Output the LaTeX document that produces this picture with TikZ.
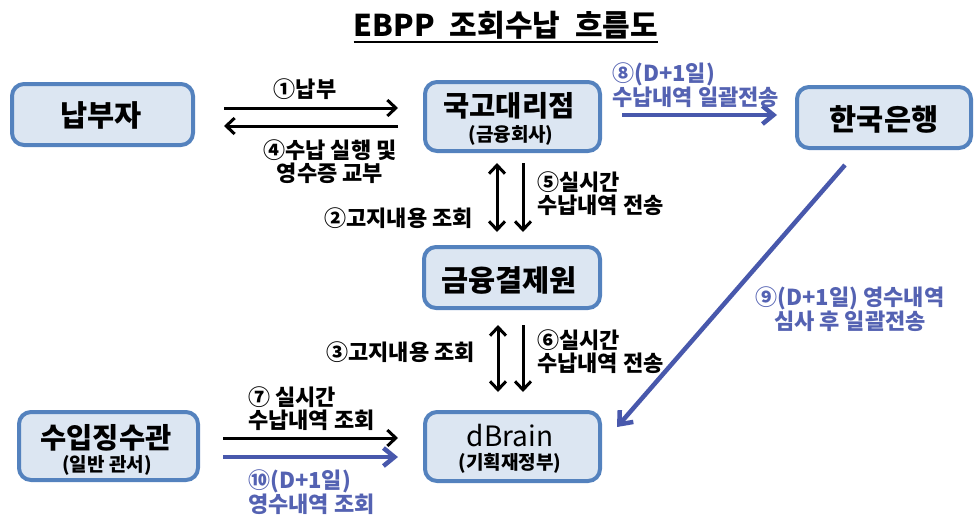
\documentclass[tikz,border=0pt]{standalone}
\usepackage{fontspec}
\setmainfont{Noto Sans CJK KR}
\usetikzlibrary{arrows.meta}
\definecolor{boxfill}{RGB}{220,230,242}
\definecolor{boxline}{RGB}{84,130,190}
\definecolor{flowblue}{RGB}{72,88,172}
\definecolor{txtblue}{RGB}{84,98,178}
\begin{document}
\begin{tikzpicture}[x=1pt,y=-1pt,
  ent/.style={draw=boxline, fill=boxfill, line width=4pt, rounded corners=12pt, inner sep=0pt},
  bigtxt/.style={inner sep=0pt, font=\fontsize{29.5}{31}\selectfont\bfseries},
  subtxt/.style={inner sep=0pt, font=\fontsize{19}{21}\selectfont\bfseries},
  lab/.style={inner sep=0pt, font=\fontsize{22}{23}\selectfont\bfseries},
  blab/.style={lab, text=txtblue},
  blk/.style={line width=3pt, -{Straight Barb[length=8.5pt,width=16pt,line width=3pt]}},
  dbl/.style={line width=3pt, {Straight Barb[length=8.5pt,width=16pt,line width=3pt]}-{Straight Barb[length=8.5pt,width=16pt,line width=3pt]}},
  blu/.style={line width=4.5pt, draw=flowblue, -{Straight Barb[length=11pt,width=18pt,line width=4.5pt]}}
]
\useasboundingbox (0,0) rectangle (975,515);

% title
\node[inner sep=0pt, font=\fontsize{30}{32}\selectfont\bfseries] (title) at (506,25) {EBPP\hspace{0.5em}조회수납\hspace{0.5em}흐름도};
\draw[line width=2pt] ([yshift=-3pt]title.south west) -- ([yshift=-3pt]title.south east);

% boxes
\node[ent, minimum width=181pt, minimum height=61pt] (napbu) at (102.5,114.5) {};
\node[ent, minimum width=175pt, minimum height=69pt] (kuk) at (512.5,116.5) {};
\node[ent, minimum width=176pt, minimum height=61pt] (geum) at (512,277.5) {};
\node[ent, minimum width=175pt, minimum height=69pt] (dbrain) at (512.5,446.5) {};
\node[ent, minimum width=174pt, minimum height=61pt] (hanguk) at (884,117.5) {};
\node[ent, minimum width=179pt, minimum height=68pt] (suip) at (108.5,446) {};

% box texts
\node[bigtxt] (napbuT) at (101,115) {납부자};
\node[bigtxt, font=\fontsize{28.5}{30}\selectfont\bfseries] (kukT) at (509,106) {국고대리점};
\node[subtxt] (kukS) at (511,135) {(금융회사)};
\node[bigtxt] (geumT) at (509,280) {금융결제원};
\node[inner sep=0pt, font=\fontsize{28}{30}\selectfont] (dbrainT) at (510,436) {dBrain};
\node[subtxt] (dbrainS) at (510,463) {(기획재정부)};
\node[bigtxt] (hangukT) at (884,119) {한국은행};
\node[bigtxt, font=\fontsize{28.5}{30}\selectfont\bfseries] (suipT) at (106,438) {수입징수관};
\node[subtxt] (suipS) at (107,465.5) {(일반 관서)};

% top-left arrows
\draw[blk] (napbu.east |- 0,108) ++(29,0) -- ([xshift=-25pt]kuk.west |- 0,108);
\draw[blk] ([xshift=-25pt]kuk.west |- 0,126) -- ([xshift=29pt]napbu.east |- 0,126);
\node[lab] (l1) at (305,89) {①납부};
\node[lab, align=center] (l4) at (330,162) {④수납 실행 및\\영수증 교부};

% kuk -> hanguk
\draw[blu] ([xshift=20pt]kuk.east |- 0,115) -- ([xshift=-18pt]hanguk.west |- 0,115);
\node[blab, align=left, anchor=west] (l8) at (612,85) {⑧(D+1일)\\수납내역 일괄전송};

% kuk <-> geum
\draw[dbl] ([xshift=-15.5pt,yshift=-10pt]kuk.south) -- ([xshift=-15pt,yshift=13pt]geum.north);
\draw[blk] ([xshift=10.5pt,yshift=-10pt]kuk.south) -- ([xshift=11pt,yshift=13pt]geum.north);
\node[lab, anchor=east] (l2) at (473,218) {②고지내용 조회};
\node[lab, align=left, anchor=west] (l5) at (537,193.5) {⑤실시간\\수납내역 전송};

% geum <-> dbrain
\draw[dbl] ([xshift=-14pt,yshift=-15pt]geum.south) -- ([xshift=-14.5pt,yshift=18pt]dbrain.north);
\draw[blk] ([xshift=11pt,yshift=-15pt]geum.south) -- ([xshift=10.5pt,yshift=18pt]dbrain.north);
\node[lab, anchor=east] (l3) at (475,352) {③고지내용 조회};
\node[lab, align=left, anchor=west] (l6) at (537,351.5) {⑥실시간\\수납내역 전송};

% hanguk -> dbrain
\draw[blu] ([xshift=-39pt,yshift=-15pt]hanguk.south) -- ([xshift=15pt,yshift=19.5pt]dbrain.east);
\node[blab, align=center] (l9) at (850,309) {⑨(D+1일) 영수내역\\심사 후 일괄전송};

% suip -> dbrain
\draw[blk] ([xshift=23pt,yshift=8pt]suip.east) -- ([xshift=-25pt,yshift=8.5pt]dbrain.west);
\draw[blu] ([xshift=23pt,yshift=-11pt]suip.east) -- ([xshift=-25pt,yshift=-10.5pt]dbrain.west);
\node[lab, align=left, anchor=west] (l7) at (248,408.5) {⑦ 실시간\\수납내역 조회};
\node[blab, align=left, anchor=west] (l10) at (248,492) {⑩(D+1일)\\영수내역 조회};
\end{tikzpicture}
\end{document}
